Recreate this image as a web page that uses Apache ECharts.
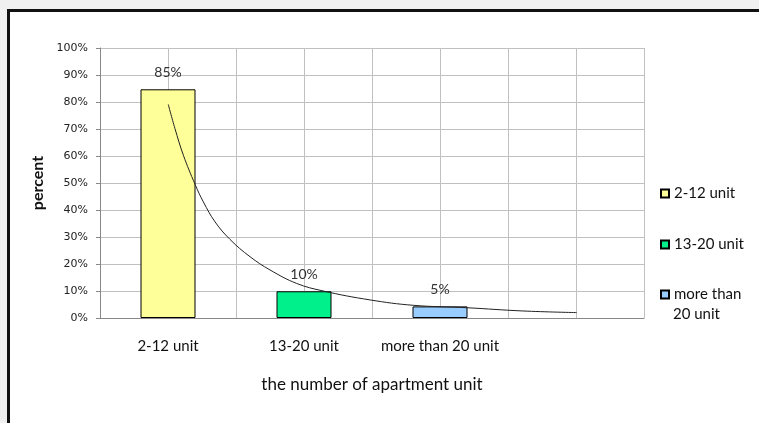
<!DOCTYPE html>
<html>
<head>
<meta charset="utf-8">
<script src="https://cdn.jsdelivr.net/npm/echarts@6/dist/echarts.min.js"></script>
<style>
  html, body { margin: 0; padding: 0; background: #f0f0f0; }
  #frame {
    position: absolute; left: 7px; top: 9px; width: 800px; height: 500px;
    background: #fff; border-left: 3px solid #111; border-top: 3px solid #111;
  }
  #main { position: absolute; left: 0; top: 0; width: 759px; height: 423px; }
</style>
</head>
<body>
<div id="frame"></div>
<div id="main"></div>
<script>
// categories and values
const categories = ['2-12 unit', '13-20 unit', 'more than 20 unit', ''];
const seriesNames = ['2-12 unit', '13-20 unit', 'more than 20 unit'];
const percentValues = [84.7, 9.9, 4.3];
const percentLabels = ['85%', '10%', '5%'];
const barColors = ['#FFFF99', '#00F08C', '#99CCFF'];

// trend curve (x in category widths from the left edge, y in %)
const trendX = [0.502, 0.551, 0.613, 0.699, 0.760, 0.846, 0.956, 1.103, 1.25, 1.446, 1.642, 1.985, 2.304, 2.699, 3.11, 3.505];
const trendY = [79.1, 70.2, 60.3, 49.5, 43.0, 35.6, 29.1, 22.7, 17.8, 12.8, 10.0, 6.7, 4.7, 3.8, 2.6, 2.0];

const font = 'Lato';
const chart = echarts.init(document.getElementById('main'));

let barSeries = seriesNames.map(function (name, i) {
  let data = categories.map(function () { return '-'; });
  data[i] = percentValues[i];
  return {
    name: name,
    type: 'bar',
    stack: 'units',
    barWidth: 55,
    xAxisIndex: 0,
    data: data,
    itemStyle: { color: barColors[i], borderColor: '#000', borderWidth: 1 },
    label: {
      show: true, position: 'top', distance: 10,
      formatter: function () { return percentLabels[i]; },
      fontFamily: font, fontSize: 14, color: '#333'
    }
  };
});

let legendBase = {
  orient: 'vertical', left: 660, padding: 0,
  icon: 'rect', itemWidth: 8, itemHeight: 8,
  textStyle: { fontFamily: font, fontSize: 15, color: '#111' }
};

let option = {
  animation: false,
  grid: { left: 100, top: 48, right: 115, bottom: 105 },
  xAxis: [
    {
      type: 'category',
      data: categories,
      axisLine: { lineStyle: { color: '#888' } },
      axisTick: { show: false },
      axisLabel: { interval: 0, margin: 21, fontFamily: font, fontSize: 15, color: '#111' },
      splitLine: { show: false },
      name: 'the number of apartment unit',
      nameLocation: 'middle',
      nameGap: 58,
      nameTextStyle: { fontFamily: font, fontSize: 17, color: '#111' }
    },
    {
      type: 'value',
      min: 0, max: 4, interval: 0.5,
      position: 'bottom',
      axisLine: { show: false },
      axisTick: { show: false },
      axisLabel: { show: false },
      splitLine: { show: true, lineStyle: { color: '#c0c0c0' } }
    }
  ],
  yAxis: {
    type: 'value',
    min: 0, max: 100, interval: 10,
    axisLine: { show: true, lineStyle: { color: '#888' } },
    axisTick: { show: true, length: 4, lineStyle: { color: '#888' } },
    axisLabel: { formatter: '{value}%', fontFamily: 'DejaVu Sans', fontSize: 11, color: '#222', margin: 12 },
    splitLine: { lineStyle: { color: '#c0c0c0' } },
    name: 'percent',
    nameLocation: 'middle',
    nameRotate: 90,
    nameGap: 52,
    nameTextStyle: { fontFamily: font, fontSize: 16, fontWeight: 'bold', color: '#111' }
  },
  legend: [
    Object.assign({}, legendBase, { top: 186, data: [seriesNames[0]] }),
    Object.assign({}, legendBase, { top: 237, data: [seriesNames[1]] }),
    Object.assign({}, legendBase, { top: 287, data: [seriesNames[2]], formatter: 'more than' })
  ],
  graphic: [{
    type: 'text', left: 673, top: 307,
    style: { text: '20 unit', fontFamily: font, fontSize: 15, fill: '#111' }
  }],
  series: barSeries.concat([{
    name: 'trend',
    type: 'line',
    xAxisIndex: 1,
    smooth: 0.4,
    symbol: 'none',
    data: trendX.map(function (x, i) { return [x, trendY[i]]; }),
    lineStyle: { color: '#222', width: 1 },
    z: 5
  }])
};

chart.setOption(option);
</script>
</body>
</html>
